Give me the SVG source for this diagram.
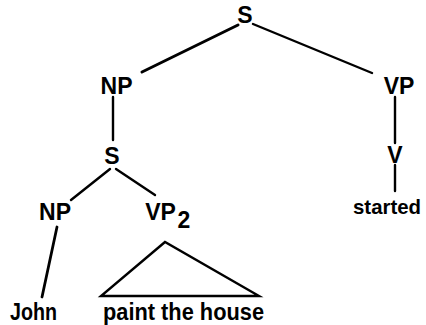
<svg xmlns="http://www.w3.org/2000/svg" width="426" height="325" viewBox="0 0 426 325">
<style>
text{font-family:"Liberation Sans",Arial,sans-serif;font-weight:bold;font-size:23px;fill:#000;text-anchor:middle}
.e{stroke:#000;stroke-width:2.4;fill:none;stroke-linecap:round}
</style>
<rect width="426" height="325" fill="#fff"/>
<g id="connectors">
<line class="e" x1="238" y1="25" x2="142" y2="72" style="stroke-width:3"/>
<line class="e" x1="253" y1="24" x2="372" y2="73"/>
<line class="e" x1="113" y1="97" x2="113" y2="140"/>
<line class="e" x1="395" y1="97" x2="395" y2="143"/>
<line class="e" x1="110" y1="169" x2="71" y2="200"/>
<line class="e" x1="116" y1="169" x2="155" y2="195"/>
<line class="e" x1="57" y1="227" x2="42" y2="297" style="stroke-width:2.8"/>
<line class="e" x1="395" y1="165" x2="395" y2="191"/>
<polygon class="e" points="165,242 101,296 259,296"/>
</g>
<g id="n-S"><text x="245" y="23">S</text></g>
<g id="n-NP"><text x="116.5" y="94">NP</text></g>
<g id="n-VP"><text x="399" y="94">VP</text></g>
<g id="n-S2"><text x="112" y="164">S</text></g>
<g id="n-V"><text x="395" y="163">V</text></g>
<g id="n-NP2"><text x="55" y="220">NP</text></g>
<g id="n-VP2"><text x="160.5" y="220">VP</text><text x="184" y="228">2</text></g>
<g id="n-John"><text x="33.5" y="320" textLength="47" lengthAdjust="spacingAndGlyphs">John</text></g>
<g id="n-paint"><text x="183.5" y="320" textLength="161" lengthAdjust="spacingAndGlyphs">paint the house</text></g>
<g id="n-started"><text x="387" y="214" style="font-size:21px" textLength="68" lengthAdjust="spacingAndGlyphs">started</text></g>
</svg>
